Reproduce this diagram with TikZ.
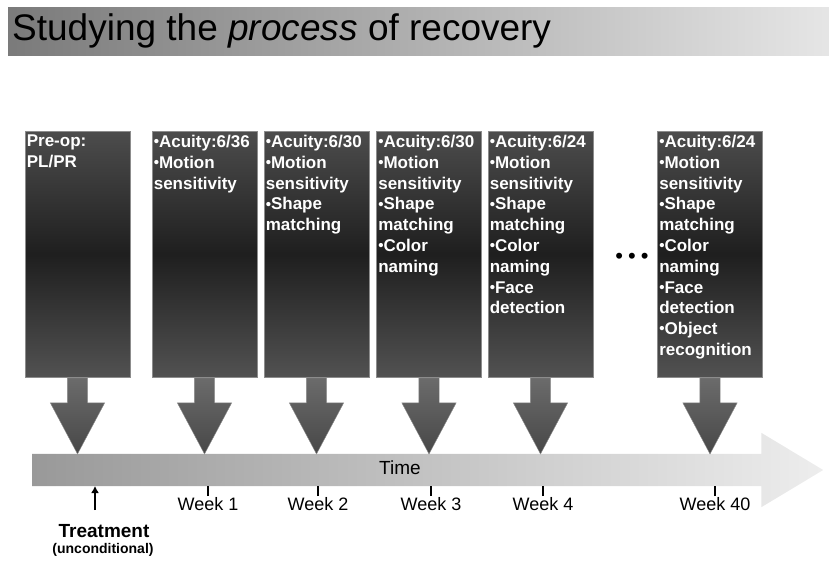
\documentclass[tikz,border=0pt]{standalone}
\usepackage{fontspec}
\setmainfont{Liberation Sans}
\usepackage{tikz}
\usetikzlibrary{arrows.meta,positioning,shapes.arrows}

\newcommand{\itemdot}{\raisebox{0.1ex}{\fontsize{15}{15}\selectfont\textbullet}}

\begin{document}
\begin{tikzpicture}[x=1pt, y=-1pt,
    titlebar/.style = {left color=black!52, right color=black!10, minimum width=821pt, minimum height=48pt, anchor=north west, inner sep=0pt},
    stage/.style = {draw=black!45, line width=0.8pt, top color=black!70, bottom color=black!68, middle color=black!88, minimum width=105pt, minimum height=246pt, anchor=north, inner sep=0pt},
    notes/.style = {text=white, align=left, text width=104pt, inner sep=1pt, font=\bfseries\fontsize{17}{20.8}\selectfont},
    pointer/.style = {single arrow, shape border rotate=270, anchor=tail, draw=black!45, top color=black!58, bottom color=black!72, minimum width=54pt, minimum height=76pt, single arrow head extend=17pt, single arrow tip angle=56, inner xsep=10pt, inner ysep=0pt},
    timeline/.style = {single arrow, anchor=tail, left color=black!40, right color=black!7, minimum width=74pt, minimum height=791pt, single arrow head extend=21pt, single arrow tip angle=62, inner xsep=0pt, inner ysep=16pt},
    weeklabel/.style = {anchor=north, inner sep=1pt, font=\fontsize{18}{18}\selectfont},
    tickmark/.style = {line width=1.6pt}]

    \useasboundingbox (0,0) rectangle (829,562);

    % title
    \node[titlebar] (bar) at (8,7) {};
    \node[anchor=west, inner sep=0pt, font=\fontsize{37}{37}\selectfont] (title) at (12,31) {Studying the \textit{process} of recovery};

    % time axis
    \node[timeline] (time) at (32,470) {};
    \node[font=\fontsize{19}{19}\selectfont] (timelabel) at (400,468) {Time};
    \coordinate (axisbottom) at (0,486);

    % stages
    \node[stage] (b1) at (77.5,131) {};
    \node[stage] (b2) at (204.5,131) {};
    \node[stage] (b3) at (316.5,131) {};
    \node[stage] (b4) at (429,131) {};
    \node[stage] (b5) at (540.5,131) {};
    \node[stage] (b6) at (710,131) {};

    \node[notes, below right=3pt and 1pt of b1.north west] (t1) {Pre-op:\\PL/PR};
    \node[notes, below right=3pt and 1pt of b2.north west] (t2) {\itemdot Acuity:6/36\\\itemdot Motion\\sensitivity};
    \node[notes, below right=3pt and 1pt of b3.north west] (t3) {\itemdot Acuity:6/30\\\itemdot Motion\\sensitivity\\\itemdot Shape\\matching};
    \node[notes, below right=3pt and 1pt of b4.north west] (t4) {\itemdot Acuity:6/30\\\itemdot Motion\\sensitivity\\\itemdot Shape\\matching\\\itemdot Color\\naming};
    \node[notes, below right=3pt and 1pt of b5.north west] (t5) {\itemdot Acuity:6/24\\\itemdot Motion\\sensitivity\\\itemdot Shape\\matching\\\itemdot Color\\naming\\\itemdot Face\\detection};
    \node[notes, below right=3pt and 1pt of b6.north west] (t6) {\itemdot Acuity:6/24\\\itemdot Motion\\sensitivity\\\itemdot Shape\\matching\\\itemdot Color\\naming\\\itemdot Face\\detection\\\itemdot Object\\recognition};

    \node[font=\fontsize{22}{22}\selectfont] (dots) at (632,258) {\textbullet\hspace{5pt}\textbullet\hspace{5pt}\textbullet};

    % arrows down to the axis
    \node[pointer] (a1) at (b1.south) {};
    \node[pointer] (a2) at (b2.south) {};
    \node[pointer] (a3) at (b3.south) {};
    \node[pointer] (a4) at (b4.south) {};
    \node[pointer] (a5) at (b5.south) {};
    \node[pointer] (a6) at (b6.south) {};

    % weeks
    \node[weeklabel] (w1) at (208,496) {Week 1};
    \node[weeklabel] (w2) at (318,496) {Week 2};
    \node[weeklabel] (w3) at (431,496) {Week 3};
    \node[weeklabel] (w4) at (543,496) {Week 4};
    \node[weeklabel] (w40) at (715,496) {Week 40};

    \draw[tickmark] (w1.north) -- (w1.north |- axisbottom);
    \draw[tickmark] (w2.north) -- (w2.north |- axisbottom);
    \draw[tickmark] (w3.north) -- (w3.north |- axisbottom);
    \draw[tickmark] (w4.north) -- (w4.north |- axisbottom);
    \draw[tickmark] (w40.north) -- (w40.north |- axisbottom);

    % treatment
    \node[font=\bfseries\fontsize{19}{19}\selectfont] (treat) at (104,531) {Treatment};
    \node[font=\bfseries\fontsize{14}{14}\selectfont] (uncond) at (103,550) {(unconditional)};
    \coordinate (treatfoot) at (95,510);
    \draw[-{Latex[length=7pt,width=8pt]}, line width=1.8pt] (treatfoot) -- (treatfoot |- axisbottom);
\end{tikzpicture}
\end{document}
